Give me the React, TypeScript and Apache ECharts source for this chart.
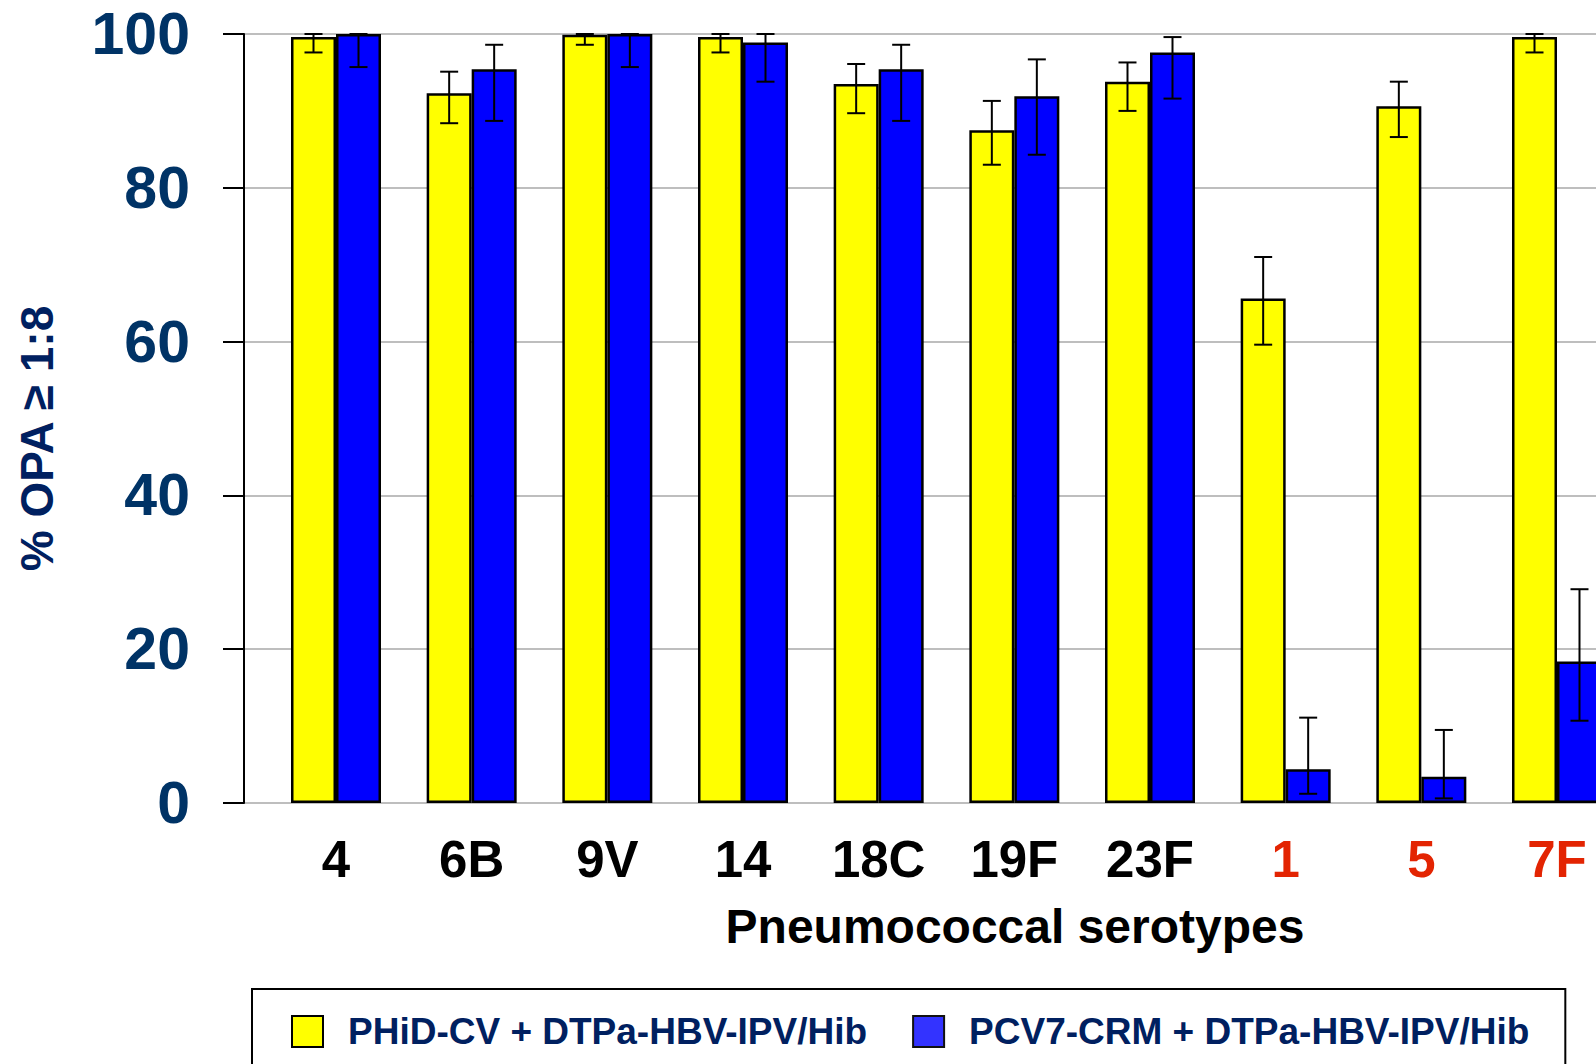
import React, { useEffect, useRef } from "react";
import * as echarts from "echarts";

const categories = ["4", "6B", "9V", "14", "18C", "19F", "23F", "1", "5", "7F"];
const redCategories = ["1", "5", "7F"];
const seriesNames = ["PHiD-CV + DTPa-HBV-IPV/Hib", "PCV7-CRM + DTPa-HBV-IPV/Hib"];

const phidValues = [99.6, 92.3, 99.9, 99.6, 93.5, 87.5, 93.8, 65.6, 90.6, 99.6];
const phidLow = [97.6, 88.4, 98.6, 97.6, 89.7, 83.0, 90.0, 59.6, 86.6, 97.6];
const phidHigh = [100, 95.1, 100, 100, 96.1, 91.3, 96.3, 71.0, 93.8, 100];

const pcvValues = [100, 95.4, 100, 98.9, 95.4, 91.9, 97.6, 4.4, 3.4, 18.4];
const pcvLow = [95.7, 88.7, 95.7, 93.8, 88.7, 84.3, 91.6, 1.2, 0.6, 10.7];
const pcvHigh = [100, 98.6, 100, 100, 98.6, 96.7, 99.6, 11.1, 9.5, 27.8];

const yTicks = [0, 20, 40, 60, 80, 100];

const BAR_W = 45;
const FONT = "'Liberation Sans', Arial, sans-serif";

function errorSeries(low: number[], high: number[], side: number) {
  return {
    type: "custom",
    xAxisIndex: 1,
    yAxisIndex: 1,
    silent: true,
    clip: false,
    z: 10,
    data: categories.map((_, i) => [i, low[i], high[i]]),
    renderItem: (params: any, api: any) => {
      const i = api.value(0);
      const lo = api.coord([i, api.value(1)]);
      const hi = api.coord([i, api.value(2)]);
      const x = lo[0] + side * (BAR_W / 2);
      const cap = 9;
      const style = { stroke: "#000", lineWidth: 2 };
      return {
        type: "group",
        children: [
          { type: "line", shape: { x1: x, y1: lo[1], x2: x, y2: hi[1] }, style },
          { type: "line", shape: { x1: x - cap, y1: lo[1], x2: x + cap, y2: lo[1] }, style },
          { type: "line", shape: { x1: x - cap, y1: hi[1], x2: x + cap, y2: hi[1] }, style },
        ],
      };
    },
  };
}

export default function App() {
  const ref = useRef<HTMLDivElement>(null);
  useEffect(() => {
    if (!ref.current) return;
    const chart = echarts.init(ref.current, null, { renderer: "svg" });
    chart.setOption({
      animation: false,
      backgroundColor: "#fff",
      textStyle: { fontFamily: FONT },
      grid: [
        { left: 244, right: 0, top: 34, bottom: 261 },
        { left: 336, right: 39, top: 34, bottom: 261 },
      ],
      xAxis: [
        { type: "value", gridIndex: 0, show: false, min: 0, max: 1 },
        {
          type: "category",
          gridIndex: 1,
          data: categories,
          boundaryGap: false,
          axisLine: { show: false },
          axisTick: { show: false },
          axisLabel: {
            margin: 31,
            fontSize: 51,
            fontWeight: "bold",
            fontFamily: FONT,
            color: (v: string) => (redCategories.indexOf(v) >= 0 ? "#e32402" : "#000"),
          },
          name: "Pneumococcal serotypes",
          nameLocation: "middle",
          nameGap: 99,
          nameTextStyle: {
            fontSize: 48,
            fontWeight: "bold",
            color: "#000",
            fontFamily: FONT,
            padding: [0, 0, 0, 137],
          },
        },
      ],
      yAxis: [
        {
          type: "value",
          gridIndex: 0,
          min: 0,
          max: 100,
          interval: 20,
          axisLine: { show: true, lineStyle: { color: "#000", width: 2 } },
          axisTick: { show: true, length: 21, lineStyle: { color: "#000", width: 2 } },
          axisLabel: {
            margin: 54,
            fontSize: 59,
            fontWeight: "bold",
            color: "#003366",
            fontFamily: FONT,
            formatter: (v: number) => (yTicks.indexOf(v) >= 0 ? String(v) : ""),
          },
          splitLine: { show: true, lineStyle: { color: "#a8a8a8", width: 1.5 } },
          name: "% OPA ≥ 1:8",
          nameLocation: "middle",
          nameGap: 184,
          nameRotate: 90,
          nameTextStyle: {
            fontSize: 46,
            fontWeight: "bold",
            color: "#002060",
            fontFamily: FONT,
            padding: [0, 40, 0, 0],
          },
        },
        { type: "value", gridIndex: 1, min: 0, max: 100, show: false },
      ],
      legend: {
        left: 252,
        top: 989,
        orient: "horizontal",
        borderColor: "#000",
        borderWidth: 2,
        padding: [24, 36, 50, 39],
        itemWidth: 31,
        itemHeight: 31,
        itemGap: 45,
        icon: "rect",
        textStyle: {
          fontSize: 37,
          fontWeight: "bold",
          color: "#002060",
          fontFamily: FONT,
          padding: [0, 0, 0, 20],
        },
        data: [
          { name: seriesNames[0], itemStyle: { color: "#ffff00", borderColor: "#000", borderWidth: 2 } },
          { name: seriesNames[1], itemStyle: { color: "#3333ff", borderColor: "#111", borderWidth: 2 } },
        ],
      },
      series: [
        {
          name: seriesNames[0],
          type: "bar",
          xAxisIndex: 1,
          yAxisIndex: 1,
          barWidth: BAR_W,
          barGap: "0%",
          clip: false,
          data: phidValues,
          itemStyle: { color: "#ffff00", borderColor: "#000", borderWidth: 2.5 },
        },
        {
          name: seriesNames[1],
          type: "bar",
          xAxisIndex: 1,
          yAxisIndex: 1,
          barWidth: BAR_W,
          barGap: "0%",
          clip: false,
          data: pcvValues,
          itemStyle: { color: "#0000ff", borderColor: "#000", borderWidth: 2.5 },
        },
        errorSeries(phidLow, phidHigh, -1),
        errorSeries(pcvLow, pcvHigh, 1),
      ],
    });
    return () => chart.dispose();
  }, []);
  return (
    <div
      ref={ref}
      style={{ position: "fixed", left: 0, top: 0, width: 1596, height: 1064, background: "#fff" }}
    />
  );
}
